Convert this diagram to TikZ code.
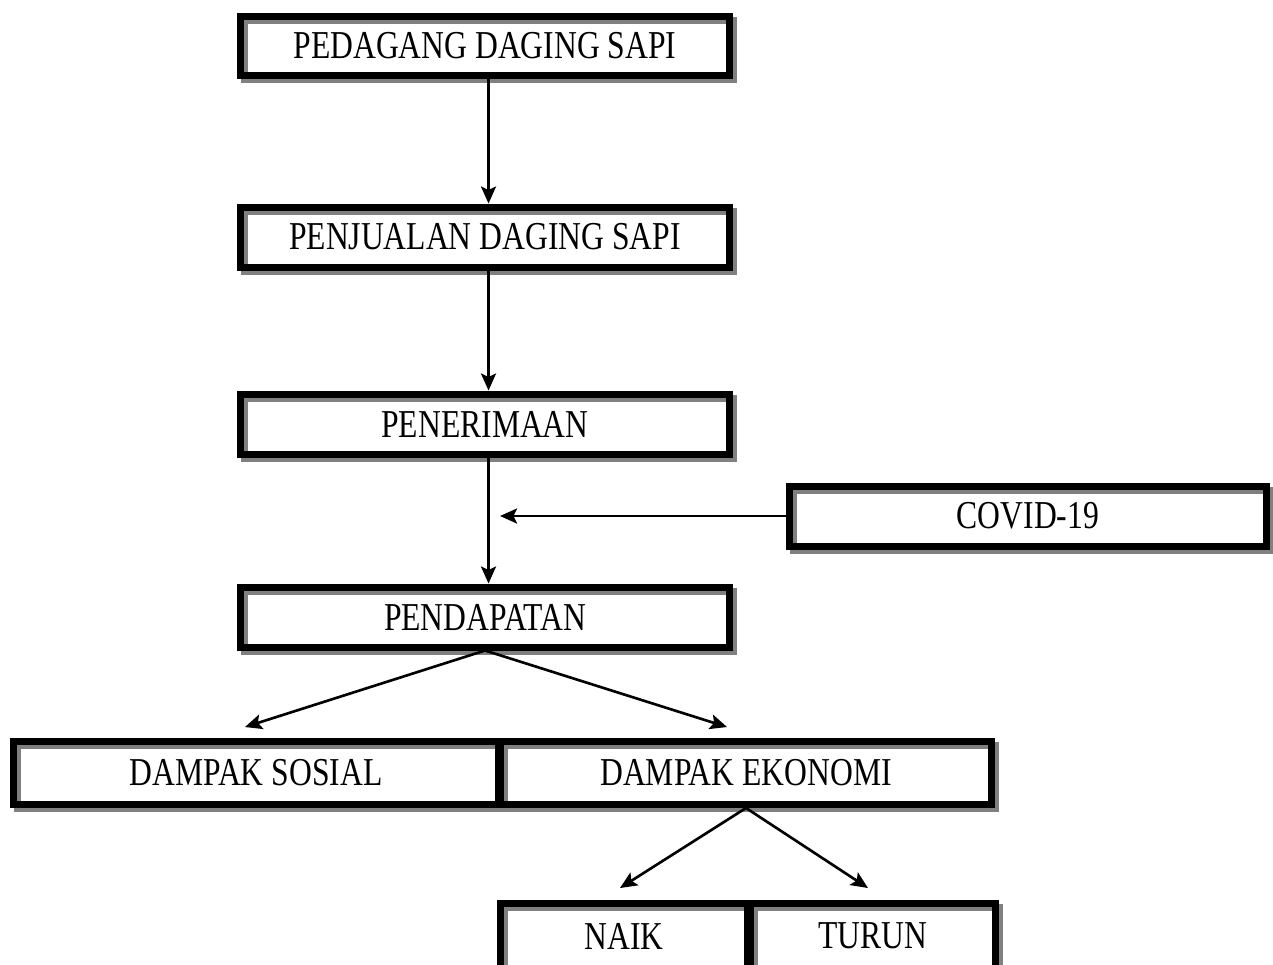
\documentclass[tikz,border=0pt]{standalone}
\usepackage{fontspec}
\setmainfont{Liberation Serif}
\usepackage{graphicx}
\usetikzlibrary{arrows.meta,calc}

\newcommand{\tinggi}[1]{\scalebox{1}[1.25]{#1}}

\tikzset{
    kotak/.style={
        rectangle, fill=white, draw=none,
        line width=0.14cm, inner sep=0pt, outer sep=0.07cm,
        minimum height=1.2cm,
        font=\fontsize{18}{20}\selectfont,
        postaction={draw=gray, line width=0.14cm,
            transform canvas={xshift=0.08cm,yshift=-0.08cm}},
        postaction={draw=black, line width=0.14cm}
    },
    panah/.style={-{Stealth[length=0.34cm,width=0.3cm,inset=0.07cm]}, line width=1.5pt}
}

\begin{document}
\begin{tikzpicture}[x=0.02cm, y=-0.02cm]

\useasboundingbox (0,0) rectangle (1273,964);

% Kotak utama
\node[kotak, minimum width=9.78cm] (pedagang) at (485,46) {\tinggi{PEDAGANG DAGING SAPI}};
\node[kotak, minimum width=9.78cm] (penjualan) at (485,237) {\tinggi{PENJUALAN DAGING SAPI}};
\node[kotak, minimum width=9.78cm] (penerimaan) at (485,424) {\tinggi{PENERIMAAN}};
\node[kotak, minimum width=9.56cm] (covid) at (1028,516) {\tinggi{COVID-19}};
\node[kotak, minimum width=9.78cm] (pendapatan) at (485,617) {\tinggi{PENDAPATAN}};

% Dampak
\node[kotak, minimum width=9.70cm, minimum height=1.26cm] (sosial) at (256,773) {\tinggi{DAMPAK SOSIAL}};
\node[kotak, minimum width=9.82cm, minimum height=1.26cm] (ekonomi) at (746,773) {\tinggi{DAMPAK EKONOMI}};

% Naik turun
\node[kotak, minimum width=4.96cm, minimum height=1.3cm] (naik) at (624,936) {\tinggi{NAIK}};
\node[kotak, minimum width=4.92cm, minimum height=1.3cm] (turun) at (873,936) {\tinggi{TURUN}};

% Panah
\draw[panah] ([xshift=2]pedagang.south) -- ([xshift=2]penjualan.north);
\draw[panah] ([xshift=2]penjualan.south) -- ([xshift=2]penerimaan.north);
\draw[panah] ([xshift=2]penerimaan.south) -- ([xshift=2]pendapatan.north);

\coordinate (pengaruh) at (500,516);
\draw[panah] (covid.west) -- (pengaruh);

\draw[panah] (pendapatan.south) -- ($(sosial.north)+(-11,-11)$);
\draw[panah] (pendapatan.south) -- ($(ekonomi.north)+(-19,-11)$);

\draw[panah] (ekonomi.south) -- ($(naik.north)+(-4,-12)$);
\draw[panah] (ekonomi.south) -- ($(turun.north)+(-5,-12)$);

\end{tikzpicture}
\end{document}
